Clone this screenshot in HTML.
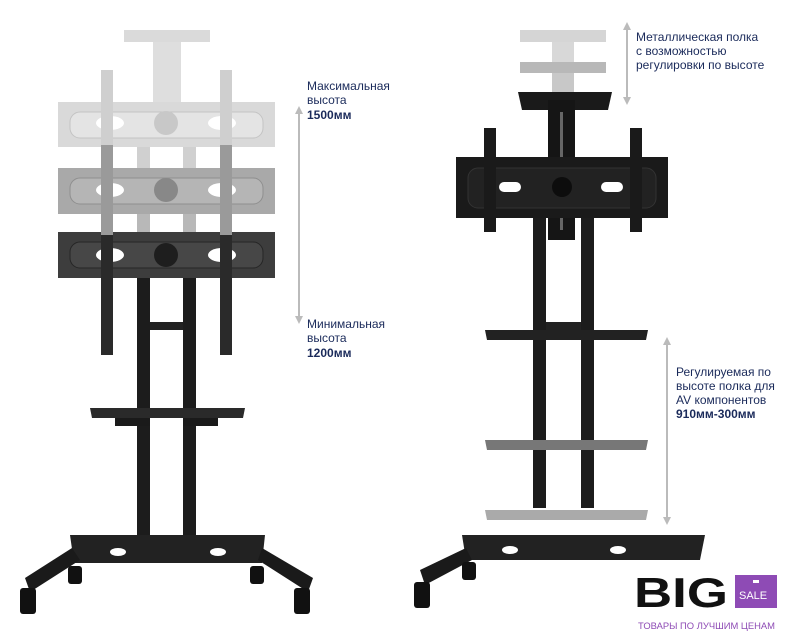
<!DOCTYPE html>
<html><head><meta charset="utf-8"><style>
html,body{margin:0;padding:0;background:#fff}
svg{display:block}
text{font-family:"Liberation Sans",sans-serif}
</style></head><body>
<svg width="808" height="640" viewBox="0 0 808 640" xmlns="http://www.w3.org/2000/svg">
<rect width="808" height="640" fill="#fff"/>
<!-- LEFT STAND -->
<rect x="124" y="30" width="86" height="12" fill="#dadada"/>
<rect x="153" y="42" width="28" height="60" fill="#dedede"/>
<rect x="137" y="147" width="13" height="21" fill="#d0d0d0"/>
<rect x="183" y="147" width="13" height="21" fill="#d0d0d0"/>
<rect x="137" y="214" width="13" height="18" fill="#b8b8b8"/>
<rect x="183" y="214" width="13" height="18" fill="#b8b8b8"/>
<!-- panels -->
<rect x="58" y="102" width="217" height="45" fill="#d9d9d9"/>
<rect x="70" y="112" width="193" height="26" rx="10" fill="#e4e4e4" stroke="#c4c4c4"/>
<rect x="58" y="168" width="217" height="46" fill="#a9a9a9"/>
<rect x="70" y="178" width="193" height="26" rx="10" fill="#b5b5b5" stroke="#8f8f8f"/>
<rect x="58" y="232" width="217" height="46" fill="#3d3d3d"/>
<rect x="70" y="242" width="193" height="26" rx="10" fill="#474747" stroke="#262626"/>
<g fill="#fff">
<ellipse cx="110" cy="123" rx="14" ry="7"/><ellipse cx="222" cy="123" rx="14" ry="7"/>
<ellipse cx="110" cy="190" rx="14" ry="7"/><ellipse cx="222" cy="190" rx="14" ry="7"/>
<ellipse cx="110" cy="255" rx="14" ry="7"/><ellipse cx="222" cy="255" rx="14" ry="7"/>
</g>
<circle cx="166" cy="123" r="12" fill="#c8c8c8"/>
<circle cx="166" cy="190" r="12" fill="#888"/>
<circle cx="166" cy="255" r="12" fill="#1e1e1e"/>
<!-- brackets -->
<rect x="101" y="70" width="12" height="75" fill="#cfcfcf"/>
<rect x="220" y="70" width="12" height="75" fill="#cfcfcf"/>
<rect x="101" y="145" width="12" height="90" fill="#9a9a9a"/>
<rect x="220" y="145" width="12" height="90" fill="#9a9a9a"/>
<rect x="101" y="235" width="12" height="120" fill="#2a2a2a"/>
<rect x="220" y="235" width="12" height="120" fill="#2a2a2a"/>
<!-- columns -->
<rect x="137" y="278" width="13" height="260" fill="#1c1c1c"/>
<rect x="183" y="278" width="13" height="260" fill="#1c1c1c"/>
<rect x="150" y="322" width="33" height="8" fill="#222"/>
<path d="M90 408 L245 408 L243 418 L92 418 Z" fill="#2a2a2a"/>
<rect x="115" y="418" width="35" height="8" fill="#1a1a1a"/>
<rect x="183" y="418" width="35" height="8" fill="#1a1a1a"/>
<!-- base -->
<path d="M70 535 L265 535 L262 563 L74 563 Z" fill="#222"/>
<path d="M72 548 L25 578 L30 592 L80 560 Z" fill="#1a1a1a"/>
<path d="M262 548 L313 578 L308 592 L258 560 Z" fill="#1a1a1a"/>
<g fill="#111">
<rect x="68" y="566" width="14" height="18" rx="3"/><rect x="250" y="566" width="14" height="18" rx="3"/>
<rect x="20" y="588" width="16" height="26" rx="3"/><rect x="294" y="588" width="16" height="26" rx="3"/>
</g>
<ellipse cx="118" cy="552" rx="8" ry="4" fill="#fff"/><ellipse cx="218" cy="552" rx="8" ry="4" fill="#fff"/>
<!-- left arrow -->
<line x1="299" y1="110" x2="299" y2="320" stroke="#bbb" stroke-width="2"/>
<path d="M295 114 L299 106 L303 114 Z M295 316 L299 324 L303 316 Z" fill="#bbb"/>
<g font-size="12" fill="#1a2a5a">
<text x="307" y="90">Максимальная</text>
<text x="307" y="104">высота</text>
<text x="307" y="119" font-weight="bold">1500мм</text>
<text x="307" y="328">Минимальная</text>
<text x="307" y="342">высота</text>
<text x="307" y="357" font-weight="bold">1200мм</text>
</g>
<!-- RIGHT STAND -->
<rect x="520" y="30" width="86" height="12" fill="#d5d5d5"/>
<rect x="552" y="42" width="22" height="20" fill="#d8d8d8"/>
<rect x="520" y="62" width="86" height="11" fill="#b8b8b8"/>
<rect x="552" y="73" width="22" height="20" fill="#c8c8c8"/>
<path d="M518 92 L612 92 L608 110 L522 110 Z" fill="#1a1a1a"/>
<rect x="548" y="100" width="27" height="140" fill="#151515"/>
<rect x="560" y="112" width="3" height="118" fill="#666"/>
<rect x="533" y="218" width="13" height="290" fill="#1c1c1c"/>
<rect x="581" y="218" width="13" height="290" fill="#1c1c1c"/>
<rect x="546" y="322" width="35" height="8" fill="#222"/>
<rect x="456" y="157" width="212" height="61" fill="#1a1a1a"/>
<rect x="468" y="168" width="188" height="40" rx="10" fill="#222" stroke="#333"/>
<rect x="499" y="182" width="22" height="10" rx="5" fill="#fff"/>
<rect x="601" y="182" width="22" height="10" rx="5" fill="#fff"/>
<circle cx="562" cy="187" r="10" fill="#0d0d0d"/>
<rect x="484" y="128" width="12" height="104" fill="#1a1a1a"/>
<rect x="630" y="128" width="12" height="104" fill="#1a1a1a"/>
<path d="M485 330 L648 330 L646 340 L487 340 Z" fill="#222"/>
<path d="M485 440 L648 440 L646 450 L487 450 Z" fill="#777"/>
<path d="M485 510 L648 510 L646 520 L487 520 Z" fill="#aaa"/>
<!-- right base -->
<path d="M462 535 L705 535 L700 560 L466 560 Z" fill="#222"/>
<path d="M466 548 L420 570 L425 585 L472 560 Z" fill="#1a1a1a"/>
<g fill="#111">
<rect x="462" y="562" width="14" height="18" rx="3"/>
<rect x="414" y="582" width="16" height="26" rx="3"/>
</g>
<ellipse cx="510" cy="550" rx="8" ry="4" fill="#fff"/><ellipse cx="618" cy="550" rx="8" ry="4" fill="#fff"/>
<!-- right arrows -->
<line x1="627" y1="27" x2="627" y2="100" stroke="#bbb" stroke-width="2"/>
<path d="M623 30 L627 22 L631 30 Z M623 97 L627 105 L631 97 Z" fill="#bbb"/>
<line x1="667" y1="342" x2="667" y2="520" stroke="#bbb" stroke-width="2"/>
<path d="M663 345 L667 337 L671 345 Z M663 517 L667 525 L671 517 Z" fill="#bbb"/>
<g font-size="12" fill="#1a2a5a">
<text x="636" y="41">Металлическая полка</text>
<text x="636" y="55">с возможностью</text>
<text x="636" y="69">регулировки по высоте</text>
<text x="676" y="376">Регулируемая по</text>
<text x="676" y="390">высоте полка для</text>
<text x="676" y="404">AV компонентов</text>
<text x="676" y="418" font-weight="bold">910мм-300мм</text>
</g>
<!-- logo -->
<text x="634" y="607" font-size="42" font-weight="bold" fill="#111" textLength="94" lengthAdjust="spacingAndGlyphs">BIG</text>
<rect x="735" y="575" width="42" height="33" fill="#8e4bb5"/>
<rect x="753" y="580" width="6" height="3" fill="#fff"/>
<text x="739" y="599" font-size="11" fill="#fff">SALE</text>
<text x="638" y="629" font-size="9" fill="#8e4bb5" textLength="137" lengthAdjust="spacingAndGlyphs">ТОВАРЫ ПО ЛУЧШИМ ЦЕНАМ</text>
</svg>
</body></html>
